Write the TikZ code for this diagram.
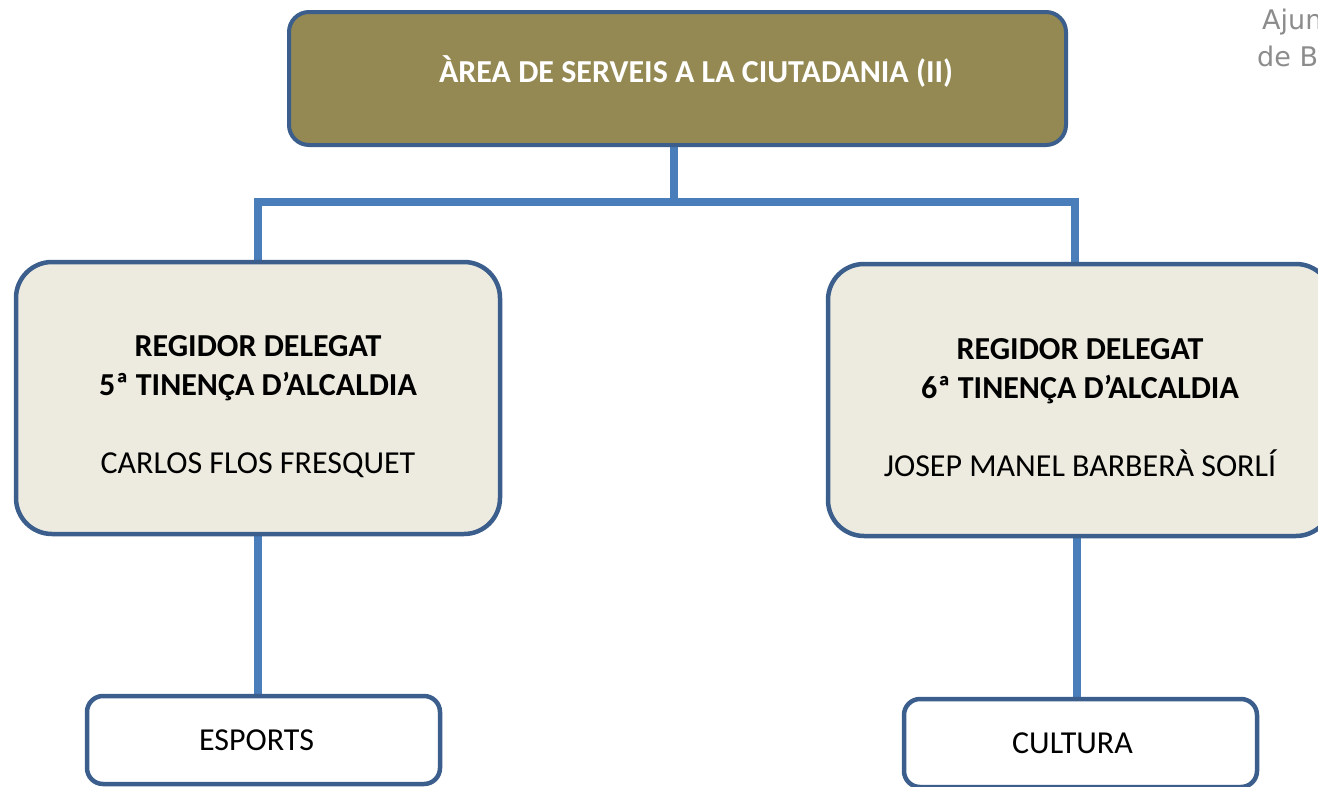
\documentclass[tikz,border=0pt]{standalone}
\usepackage{fontspec}
\setmainfont{Carlito}
\newfontfamily\logofont{DejaVu Sans}
\usetikzlibrary{backgrounds}
\definecolor{boxline}{RGB}{59,94,140}
\definecolor{conn}{RGB}{74,126,187}
\definecolor{olive}{RGB}{148,137,82}
\definecolor{cream}{RGB}{237,235,224}
\newcommand\boxfont{\fontsize{32}{39}\selectfont}
\tikzset{
    area/.style={rectangle,rounded corners=20pt,draw=boxline,line width=4pt,fill=olive,minimum width=777pt,minimum height=133pt,text height=22pt,text depth=13.6pt,text=white,font=\boxfont\bfseries},
    regidor/.style={rectangle,rounded corners=36pt,draw=boxline,line width=4.5pt,fill=cream,minimum height=272pt,align=center,font=\boxfont},
    servei/.style={rectangle,rounded corners=16pt,draw=boxline,line width=4.5pt,fill=white,minimum width=353pt,minimum height=88pt,font=\boxfont},
    edge/.style={-,draw=conn,line width=8.5pt},
    logo/.style={anchor=base west,inner sep=0pt,text=gray!90,font=\logofont\fontsize{27}{32}\selectfont},
}
\begin{document}
\begin{tikzpicture}[x=1pt,y=-1pt]
    \useasboundingbox (0,0) rectangle (1318,787);
    \node[area] (area) at (677.5,78.5) {\kern37pt ÀREA DE SERVEIS A LA CIUTADANIA (II)};
    \node[regidor,minimum width=484pt] (reg5) at (258,398) {\rule{0pt}{38pt}\textbf{REGIDOR DELEGAT}\\\textbf{5ª TINENÇA D’ALCALDIA}\\[39pt]CARLOS FLOS FRESQUET};
    \node[regidor,minimum width=504pt] (reg6) at (1080,400) {\rule{0pt}{36pt}\textbf{REGIDOR DELEGAT}\\\textbf{6ª TINENÇA D’ALCALDIA}\\[39pt]JOSEP MANEL BARBERÀ SORLÍ};
    \node[servei] (esp) at (263.5,740) {ESPORTS\kern14pt};
    \node[servei] (cult) at (1080.5,743) {CULTURA\kern16pt};
    \node[logo] (ajun) at (1262,30) {Ajun};
    \node[logo] (deb) at (1257,66) {de B};
    \coordinate (j) at (674,202);
    \begin{scope}[on background layer]
    \draw[edge] (j |- area.south) -- (j);
    \draw[edge] (j) -| (reg5.north);
    \draw[edge] (j) -| ([xshift=-5pt]reg6.north);
    \draw[edge] (reg5.south) -- (reg5.south |- esp.north);
    \draw[edge] ([xshift=-3pt]reg6.south) -- ([xshift=-3pt]reg6.south |- cult.north);
    \end{scope}
\end{tikzpicture}
\end{document}
